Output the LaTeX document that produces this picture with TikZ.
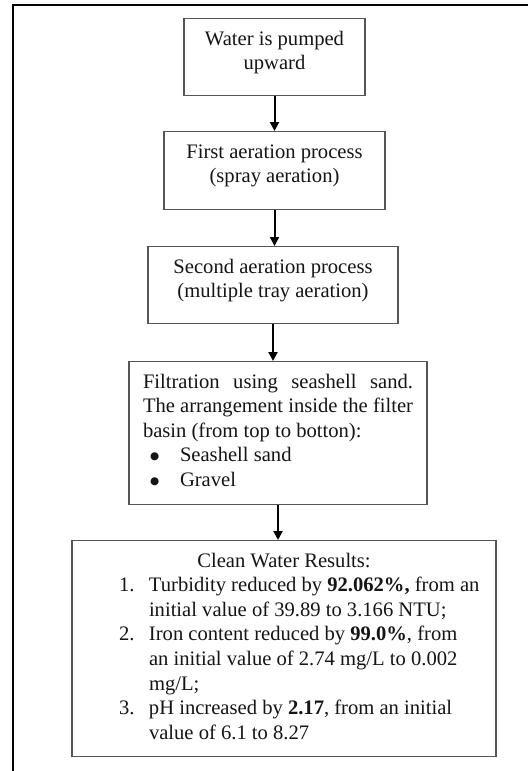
\documentclass[tikz,border=0pt]{standalone}
\usepackage{fontspec}
\setmainfont{Liberation Serif}
\newfontfamily\symfnt{DejaVu Sans}
\usetikzlibrary{arrows.meta}
\definecolor{boxgray}{HTML}{555555}
\definecolor{inkc}{HTML}{151515}
\newcommand\bxt[3]{\begin{minipage}[t][#2][t]{#1}#3\end{minipage}}
\newcommand\bigbul{\raisebox{2.2pt}{\symfnt\fontsize{10.5}{10.5}\selectfont ●}}
\tikzset{
  stepbox/.style={draw=boxgray, line width=1.2pt, inner sep=0pt, anchor=north,
    font=\fontsize{20.6}{24.6}\selectfont, text=inkc},
  flowarrow/.style={line width=2pt, -{Triangle[length=9pt,width=9pt]}},
  frameline/.style={line width=2pt}
}
\begin{document}
\begin{tikzpicture}[x=1pt,y=-1pt]
\useasboundingbox (0,0) rectangle (528,771);
\fill[white] (0,0) rectangle (528,771);
\coordinate (fa) at (13,771);
\coordinate (fb) at (13,5);
\coordinate (fc) at (528,5);
\draw[frameline] (fa) -- (fb) -- (fc);

\node[stepbox] (b1) at (274.5,18) {\bxt{181pt}{77pt}{\centering\rule{0pt}{26.5pt}Water is pumped\\upward}};
\node[stepbox] (b2) at (274.5,131) {\bxt{221pt}{78pt}{\centering\rule{0pt}{26.5pt}First aeration process\\(spray aeration)}};
\node[stepbox] (b3) at (273,246) {\bxt{250pt}{77pt}{\centering\rule{0pt}{26.5pt}Second aeration process\\(multiple tray aeration)}};
\node[stepbox] (b4) at (278,361) {\bxt{298pt}{143pt}{\leftskip=14pt\rightskip=14pt plus 1fil
\rule{0pt}{26.5pt}\makebox[270pt][s]{Filtration using seashell sand.}\\
\makebox[270pt][s]{The arrangement inside the filter}\\
basin (from top to botton):\\
\hspace*{7pt}\makebox[30pt][l]{\bigbul}Seashell sand\\
\hspace*{7pt}\makebox[30pt][l]{\bigbul}Gravel\par}};
\node[stepbox] (b5) at (284,540) {\bxt{424pt}{216pt}{{\centering\rule{0pt}{26.5pt}Clean Water Results:\par}
{\leftskip=77pt\rightskip=0pt plus 1fil
\leavevmode\llap{\makebox[30pt][l]{1.}}Turbidity reduced by \textbf{92.062\%,} from an\\
initial value of 39.89 to 3.166 NTU;\par
\leavevmode\llap{\makebox[30pt][l]{2.}}Iron content reduced by \textbf{99.0\%}, from\\
an initial value of 2.74 mg/L to 0.002\\
mg/L;\par
\leavevmode\llap{\makebox[30pt][l]{3.}}pH increased by \textbf{2.17}, from an initial\\
value of 6.1 to 8.27\par}}};

\draw[flowarrow] (b1.south) -- (b1.south |- b2.north);
\draw[flowarrow] (b2.south) -- (b2.south |- b3.north);
\draw[flowarrow] (b3.south) -- (b3.south |- b4.north);
\draw[flowarrow] (b4.south) -- (b4.south |- b5.north);
\end{tikzpicture}
\end{document}
